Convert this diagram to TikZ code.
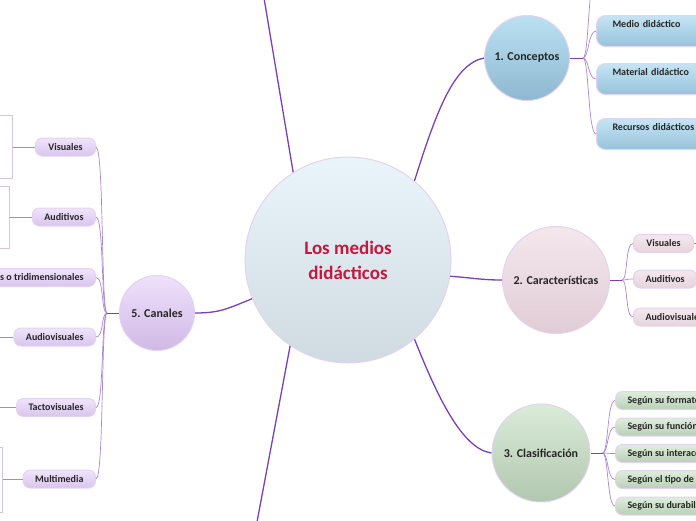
\documentclass[tikz,border=0pt]{standalone}
\usepackage{fontspec}
\setmainfont{Carlito}

\definecolor{colrama}{HTML}{7B3FB6}
\definecolor{colramita}{HTML}{A886CF}
\definecolor{colborde}{HTML}{E3D3F1}
\definecolor{coltitulo}{HTML}{C8173C}
\definecolor{centroA}{HTML}{EAF5FB}
\definecolor{centroB}{HTML}{CFDAE1}
\definecolor{azulA}{HTML}{BBE0F2}
\definecolor{azulB}{HTML}{8EB8D1}
\definecolor{azulcA}{HTML}{C4E5F5}
\definecolor{azulcB}{HTML}{98C2DA}
\definecolor{rosaA}{HTML}{F5E7ED}
\definecolor{rosaB}{HTML}{E0CCD5}
\definecolor{rosacA}{HTML}{F4E8EE}
\definecolor{rosacB}{HTML}{E6D4DC}
\definecolor{verdeA}{HTML}{DAECD8}
\definecolor{verdeB}{HTML}{B2C7AF}
\definecolor{verdecA}{HTML}{DEEEDC}
\definecolor{verdecB}{HTML}{BACFB7}
\definecolor{lilaA}{HTML}{EFE1FB}
\definecolor{lilaB}{HTML}{D0B9E6}
\definecolor{lilacA}{HTML}{F0E4FC}
\definecolor{lilacB}{HTML}{D8C5EC}

\tikzset{
  tema/.style={circle, draw=colborde, line width=1pt, inner sep=0pt, align=center,
    text=black!85, font=\bfseries\fontsize{12}{14}\selectfont},
  caja/.style={draw=colborde, line width=1pt, rounded corners=7pt, inner xsep=12pt,
    inner ysep=0pt, minimum height=18pt, text=black!85, font=\bfseries\fontsize{10}{12}\selectfont},
  cajaalta/.style={caja, text width=92pt, align=left, inner xsep=16pt, inner ysep=4pt,
    text height=8pt, text depth=15pt, rounded corners=9pt},
  hoja/.style={draw=colborde!85!gray, fill=white, line width=0.8pt, inner xsep=4pt,
    inner ysep=0pt, text=black!70, font=\fontsize{9.5}{11}\selectfont},
  centro/.style={top color=centroA, bottom color=centroB},
  azul/.style={top color=azulA, bottom color=azulB},
  azulc/.style={top color=azulcA, bottom color=azulcB},
  rosa/.style={top color=rosaA, bottom color=rosaB},
  rosac/.style={top color=rosacA, bottom color=rosacB},
  verde/.style={top color=verdeA, bottom color=verdeB},
  verdec/.style={top color=verdecA, bottom color=verdecB},
  lila/.style={top color=lilaA, bottom color=lilaB},
  lilac/.style={top color=lilacA, bottom color=lilacB},
  rama/.style={draw=colrama, line width=1.3pt},
  ramita/.style={draw=colramita, line width=0.7pt},
  der/.style={out=0, in=180, out distance=6pt, in distance=8pt},
  izq/.style={out=180, in=0, out distance=6pt, in distance=8pt},
}

\begin{document}
\begin{tikzpicture}[x=1pt, y=-1pt]
  \path[use as bounding box, clip] (0,0) rectangle (696,520);

  \node[tema, centro, minimum size=206pt, text=coltitulo,
    font=\bfseries\fontsize{19}{25}\selectfont] at (348,260) (medios) {Los medios\\didácticos};
  \node[tema, azul, minimum size=85pt] at (527,58) (conceptos) {1. Conceptos};
  \node[tema, rosa, minimum size=107pt] at (556,280) (caract) {2. Características};
  \node[tema, verde, minimum size=98pt] at (541,453) (clasif) {3. Clasificación};
  \node[tema, lila, minimum size=75pt] at (157,313) (canales) {5. Canales};

  \coordinate (arriba) at (264,-2);
  \coordinate (abajo) at (257,522);
  \draw[rama] (medios.122) -- (arriba);
  \draw[rama] (medios.236) -- (abajo);
  \draw[rama] (medios.50) .. controls +(22,-70) and +(-30,6) .. (conceptos.west);
  \draw[rama] (medios.-9) .. controls +(25,2) and +(-20,0) .. (caract.west);
  \draw[rama] (medios.-50) .. controls +(22,55) and +(-30,-4) .. (clasif.west);
  \draw[rama] (medios.202) .. controls +(-25,10) and +(25,0) .. (canales.east);

  \node[cajaalta, azulc, anchor=north west] at (596,15) (medio) {Medio didáctico};
  \node[cajaalta, azulc, anchor=north west] at (596,63) (material) {Material didáctico};
  \node[cajaalta, azulc, anchor=north west] at (596,118) (recursos) {Recursos didácticos};
  \coordinate (conc0) at (596,-25);
  \draw[rama, line width=0.8pt] (conceptos.east) -- ++(13,0) coordinate (bpcon);
  \draw[ramita] (bpcon) to[der] (conc0);
  \draw[ramita] (bpcon) to[der] (medio.west);
  \draw[ramita] (bpcon) to[der] (material.west);
  \draw[ramita] (bpcon) to[der] (recursos.west);

  \node[caja, rosac, anchor=west, minimum width=60pt] at (633,243.5) (cvis) {Visuales};
  \node[caja, rosac, anchor=west, minimum width=60pt] at (633,279) (caud) {Auditivos};
  \node[caja, rosac, anchor=west] at (633,317) (caudv) {Audiovisuales};
  \coordinate (cvis1) at (704,243.5);
  \draw[rama, line width=0.8pt] (caract.east) -- ++(12,0) coordinate (bpcar);
  \draw[ramita] (bpcar) to[der] (cvis.west);
  \draw[ramita] (bpcar) to[der] (caud.west);
  \draw[ramita] (bpcar) to[der] (caudv.west);
  \draw[ramita] (cvis.east) -- (cvis1);

  \node[caja, verdec, anchor=west] at (615,400.5) (formato) {Según su formato};
  \node[caja, verdec, anchor=west] at (615,427) (funcion) {Según su función};
  \node[caja, verdec, anchor=west] at (615,453.5) (interac) {Según su interacción};
  \node[caja, verdec, anchor=west] at (615,479.5) (tipo) {Según el tipo de};
  \node[caja, verdec, anchor=west] at (615,506) (durab) {Según su durabilidad};
  \draw[rama, line width=0.8pt] (clasif.east) -- ++(12,0) coordinate (bpcla);
  \foreach \n in {formato,funcion,interac,tipo,durab}
    \draw[ramita] (bpcla) to[der] (\n.west);

  \node[caja, lilac, anchor=east, minimum width=60pt] at (96,147) (visuales) {Visuales};
  \node[caja, lilac, anchor=east] at (96,217) (auditivos) {Auditivos};
  \node[caja, lilac, anchor=east] at (96,277.5) (tridim) {Bidimensionales o tridimensionales};
  \node[caja, lilac, anchor=east] at (96,337) (audiovis) {Audiovisuales};
  \node[caja, lilac, anchor=east] at (96,407.5) (tactovis) {Tactovisuales};
  \node[caja, lilac, anchor=east] at (96,479) (multimedia) {Multimedia};
  \draw[rama, line width=0.8pt] (canales.west) -- ++(-12,0) coordinate (bpcan);
  \foreach \n in {visuales,auditivos,tridim,audiovis,tactovis,multimedia}
    \draw[ramita] (bpcan) to[izq] (\n.east);

  \node[hoja, anchor=north east, minimum width=60pt, text height=41pt, text depth=22pt,
    align=right] at (13,115) (hvis) {as};
  \node[hoja, anchor=north east, minimum width=60pt, text height=45pt, text depth=17pt,
    align=right] at (10,186) (haud) {es};
  \node[hoja, anchor=north east, minimum width=60pt, minimum height=65pt] at (3,447) (hmul) {};
  \coordinate (haudv) at (-5,337);
  \coordinate (htact) at (-5,407.5);
  \draw[ramita] (visuales.west) -- (hvis.east |- visuales.west);
  \draw[ramita] (auditivos.west) -- (haud.east |- auditivos.west);
  \draw[ramita] (multimedia.west) -- (hmul.east |- multimedia.west);
  \draw[ramita] (audiovis.west) -- (haudv);
  \draw[ramita] (tactovis.west) -- (htact);
\end{tikzpicture}
\end{document}
